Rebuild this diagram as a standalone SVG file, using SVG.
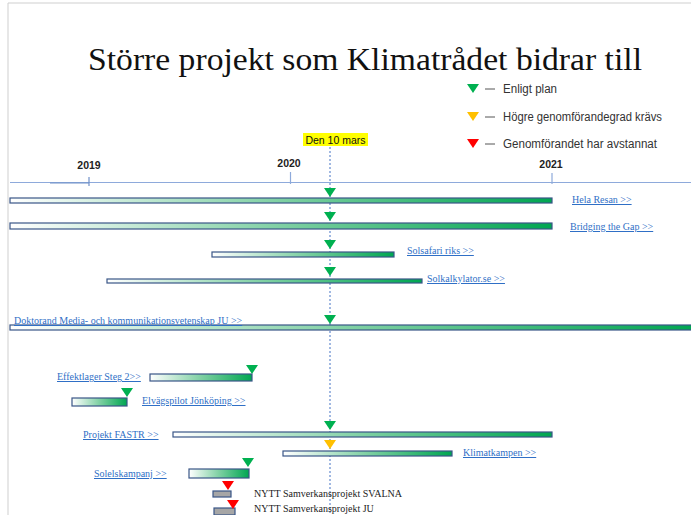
<svg xmlns="http://www.w3.org/2000/svg" width="691" height="515" viewBox="0 0 691 515">
<defs>
<linearGradient id="gb" x1="0" y1="0" x2="1" y2="0">
<stop offset="0" stop-color="#ffffff"/>
<stop offset="0.5" stop-color="#7fd0a3"/>
<stop offset="1" stop-color="#00a651"/>
</linearGradient>
<polygon id="tri" points="-6,0 6,0 0,9"/>
</defs>
<style>
.bar{fill:url(#gb);stroke:#3a5687;stroke-width:1.2}
.gbar{fill:#a6a6a6;stroke:#3a5687;stroke-width:1.2}
.lnk{font-family:"Liberation Serif",serif;font-size:10px;fill:#2f6fc6;text-decoration:underline}
.blk{font-family:"Liberation Serif",serif;font-size:10px;fill:#222}
.leg{font-family:"Liberation Sans",sans-serif;font-size:12px;fill:#333}
.yr{font-family:"Liberation Sans",sans-serif;font-size:10.5px;font-weight:bold;fill:#222}
.g{fill:#00b050}.y{fill:#ffc000}.r{fill:#ff0000}
</style>
<rect width="691" height="515" fill="#ffffff"/>
<path d="M8,515 V3 H691" fill="none" stroke="#cfcfcf" stroke-width="1"/>
<text x="88" y="70" font-family="'Liberation Serif',serif" font-size="32" fill="#111" textLength="554" lengthAdjust="spacingAndGlyphs">Större projekt som Klimatrådet bidrar till</text>
<g id="legend">
<use href="#tri" x="473" y="84" class="g"/>
<line x1="485" y1="89" x2="495" y2="89" stroke="#555" stroke-width="1"/>
<text x="503" y="93" class="leg" textLength="54" lengthAdjust="spacingAndGlyphs">Enligt plan</text>
<use href="#tri" x="473" y="112" class="y"/>
<line x1="485" y1="117" x2="495" y2="117" stroke="#555" stroke-width="1"/>
<text x="503" y="121" class="leg" textLength="159" lengthAdjust="spacingAndGlyphs">Högre genomförandegrad krävs</text>
<use href="#tri" x="473" y="139" class="r"/>
<line x1="485" y1="144" x2="495" y2="144" stroke="#555" stroke-width="1"/>
<text x="503" y="148" class="leg" textLength="154" lengthAdjust="spacingAndGlyphs">Genomförandet har avstannat</text>
</g>
<g id="axis">
<line x1="10" y1="182.5" x2="691" y2="182.5" stroke="#8eaadb" stroke-width="1.2"/>
<line x1="50" y1="183" x2="89" y2="183" stroke="#6f8fc8" stroke-width="1.2"/>
<line x1="89" y1="177" x2="89" y2="186" stroke="#6f8fc8" stroke-width="1.2"/>
<line x1="290.5" y1="172" x2="290.5" y2="184" stroke="#8eaadb" stroke-width="1.2"/>
<line x1="552" y1="173" x2="552" y2="184" stroke="#8eaadb" stroke-width="1.2"/>
<text x="89" y="169" class="yr" text-anchor="middle">2019</text>
<text x="289" y="167" class="yr" text-anchor="middle">2020</text>
<text x="551" y="168" class="yr" text-anchor="middle">2021</text>
</g>
<g id="connectors">
<line x1="330" y1="147" x2="330" y2="515" stroke="#4472c4" stroke-width="1" stroke-dasharray="2,2"/>
</g>
<g id="today">
<rect x="303" y="133" width="65" height="13" fill="#ffff00"/>
<text x="335.5" y="143.5" text-anchor="middle" font-family="'Liberation Sans',sans-serif" font-size="10.5" fill="#111">Den 10 mars</text>
</g>
<g id="hela-resan">
<rect x="10" y="198" width="542" height="5" class="bar"/>
<use href="#tri" x="330" y="188" class="g"/>
<text x="572" y="203" class="lnk">Hela Resan &gt;&gt;</text>
</g>
<g id="bridging-the-gap">
<rect x="10" y="223" width="542" height="6" class="bar"/>
<use href="#tri" x="330" y="212" class="g"/>
<text x="570" y="230" class="lnk">Bridging the Gap &gt;&gt;</text>
</g>
<g id="solsafari">
<rect x="212" y="252" width="182" height="5" class="bar"/>
<use href="#tri" x="330" y="240" class="g"/>
<text x="407" y="254" class="lnk">Solsafari riks &gt;&gt;</text>
</g>
<g id="solkalkylator">
<rect x="107" y="279" width="315" height="4" class="bar"/>
<use href="#tri" x="330" y="267" class="g"/>
<text x="427" y="282" class="lnk">Solkalkylator.se &gt;&gt;</text>
</g>
<g id="doktorand">
<rect x="10" y="325" width="685" height="5" class="bar"/>
<use href="#tri" x="330" y="315" class="g"/>
<text x="14" y="324" class="lnk">Doktorand Media- och kommunikationsvetenskap JU &gt;&gt;</text>
</g>
<g id="effektlager">
<rect x="150" y="374" width="102" height="7" class="bar"/>
<use href="#tri" x="252" y="365" class="g"/>
<text x="57" y="380" class="lnk">Effektlager Steg 2&gt;&gt;</text>
</g>
<g id="elvagspilot">
<rect x="72" y="398" width="55" height="8" class="bar"/>
<use href="#tri" x="127" y="388" class="g"/>
<text x="142" y="404" class="lnk">Elvägspilot Jönköping &gt;&gt;</text>
</g>
<g id="fastr">
<rect x="173" y="432" width="379" height="5" class="bar"/>
<use href="#tri" x="330" y="421" class="g"/>
<text x="83" y="438" class="lnk">Projekt FASTR &gt;&gt;</text>
</g>
<g id="klimatkampen">
<rect x="283" y="451" width="169" height="5" class="bar"/>
<use href="#tri" x="330" y="440" class="y"/>
<text x="463" y="456" class="lnk">Klimatkampen &gt;&gt;</text>
</g>
<g id="solelskampanj">
<rect x="189" y="469" width="60" height="9" class="bar"/>
<use href="#tri" x="248" y="458" class="g"/>
<text x="94" y="477" class="lnk">Solelskampanj &gt;&gt;</text>
</g>
<g id="svalna">
<rect x="213" y="491" width="18" height="6" class="gbar"/>
<use href="#tri" x="228" y="481" class="r"/>
<text x="254" y="497" class="blk">NYTT Samverkansprojekt SVALNA</text>
</g>
<g id="ju">
<rect x="214" y="508" width="21" height="7" class="gbar"/>
<use href="#tri" x="233" y="500" class="r"/>
<text x="254" y="512" class="blk">NYTT Samverkansprojekt JU</text>
</g>
</svg>
